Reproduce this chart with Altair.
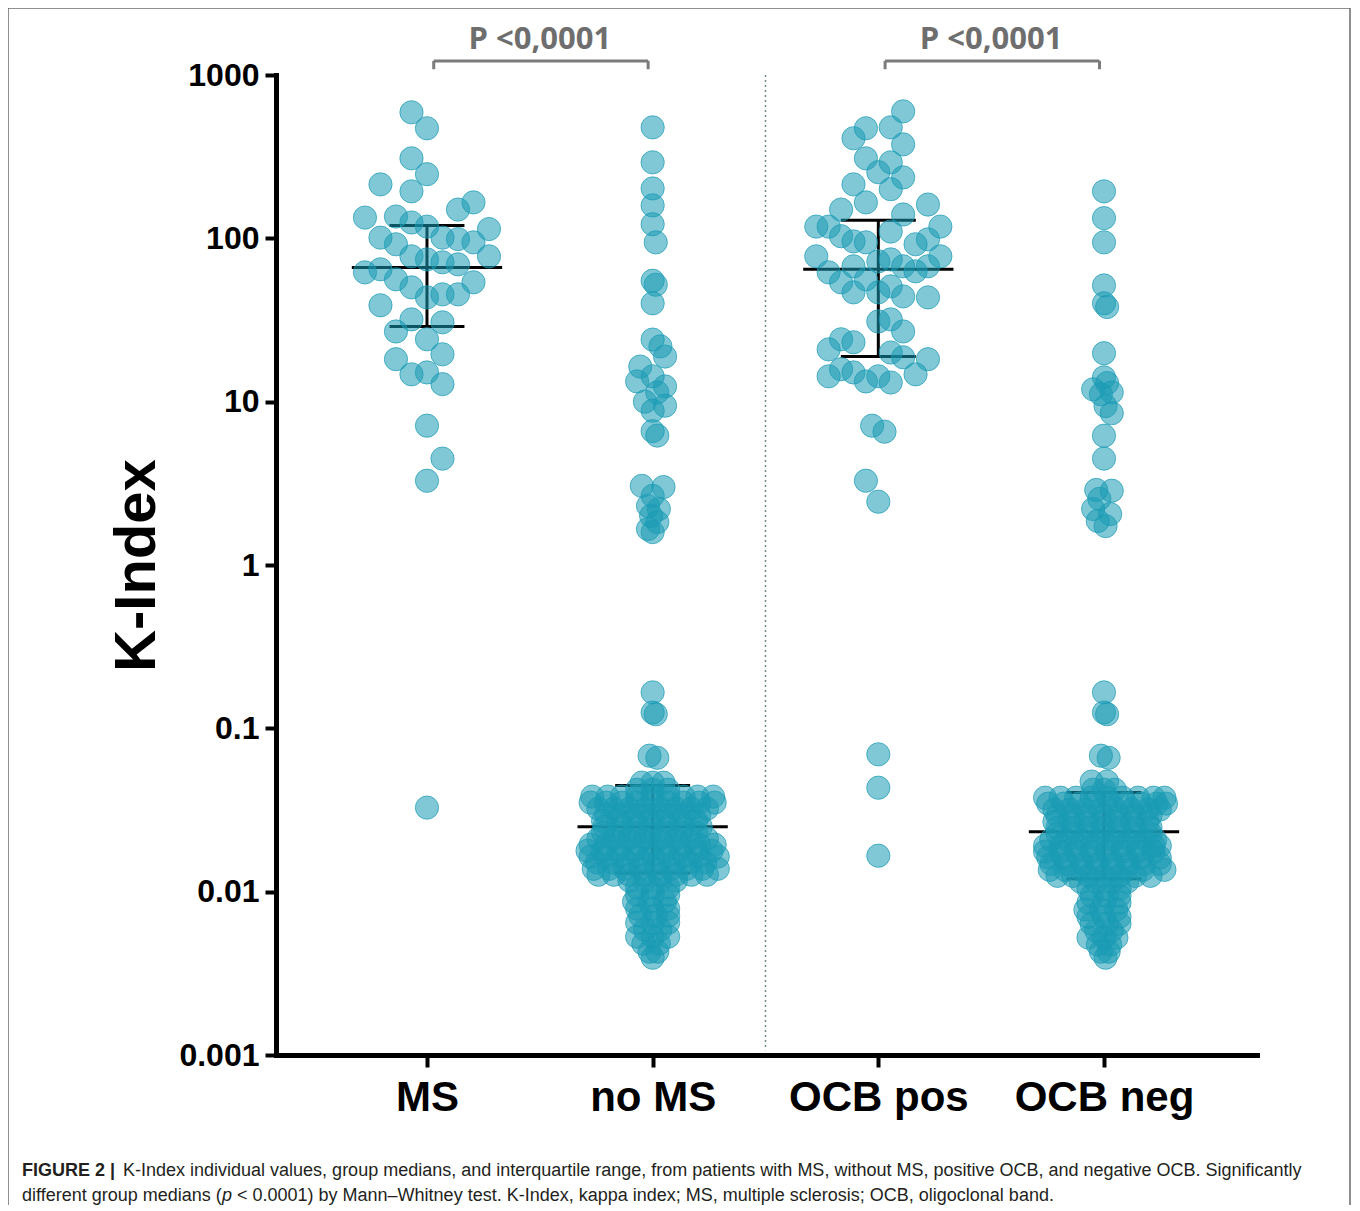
import json
import altair as alt
import pandas as pd

GROUPS = ["MS", "no MS", "OCB pos", "OCB neg"]
GROUP_POS = [1, 2, 3, 4]
Y_TICKS = [0.001, 0.01, 0.1, 1, 10, 100, 1000]

# ---- individual K-Index values and swarm slots ----
MS_K = [591, 472, 309, 247, 214, 194, 166, 150, 134, 136, 125, 118, 114, 101, 92,
        101, 99, 94.5, 77.6, 77.6, 74.3, 71.3, 69.3, 61.9, 64.6, 56.1, 50.1, 53.8,
        43.5, 45.4, 45.4, 38.9, 31.9, 30.6, 26.9, 24.1, 19.5, 18.2, 14.7, 15.1, 12.8,
        7.13, 4.48, 3.28, 0.0327]
MS_SLOT = [-1, 0, -1, 0, -3, -1, 3, 2, -4, -2, -1, 0, 4, -3, -2, 1, 2, 3, 4, -1,
           0, 1, 2, -4, -3, -2, -1, 3, 0, 1, 2, -3, -1, 1, -2, 0, 1, -2, -1, 0,
           1, 0, 1, 0, 0]

NOMS_K = [478, 292, 202, 159, 122, 94.5, 55, 52, 40, 24, 21.8, 18.9, 16.4, 14.3,
          13.3, 12.4, 11.4, 10, 9.45, 8.8, 6.6, 6.2, 3.05, 3.0, 2.65, 2.3, 2.2, 2.0,
          1.83, 1.66, 1.59, 0.166, 0.125, 0.122, 0.068, 0.066]
NOMS_SLOT = [0, 0, 0, 0, 0, 0.2, 0, 0.2, 0, 0, 0.5, 0.8, -0.8, 0, -1, 0.8, 0.3, -0.5,
             0.8, 0, 0, 0.3, -0.7, 0.7, 0, -0.3, 0.4, -0.1, 0.3, -0.3, 0, 0, 0, 0.2,
             -0.2, 0.3]
# dense low cluster, one entry per row of the swarm
NOMS_ROW_K = [0.0465, 0.0421, 0.0382, 0.0351, 0.0322, 0.0296, 0.0272, 0.0250,
              0.0230, 0.0211, 0.0194, 0.0178, 0.0164, 0.0151, 0.0138, 0.0127,
              0.0117, 0.0106, 0.00958, 0.00869, 0.00787, 0.00713, 0.00646,
              0.00585, 0.00530, 0.00480, 0.00429, 0.00394]
NOMS_ROW_SLOTS = [
    [-0.7, 0, 0.7],
    [-1, 0, 1],
    [-3.9, -2.9, -2, -1, 0, 1, 2, 2.9, 3.9],
    [-4, -3, -2, -1, 0, 1, 2, 3, 4],
    [-3.5, -2.5, -1.5, -0.5, 0.5, 1.5, 2.5, 3.5],
    [-3, -2, -1, 0, 1, 2, 3],
    [-3.2, -2.2, -1.2, -0.2, 0.8, 1.8, 2.8],
    [-3.1, -2, -1, 0, 1, 2, 3.1],
    [-3.2, -2.2, -1.2, -0.2, 0.8, 1.8, 2.8],
    [-3.5, -2.5, -1.5, -0.5, 0.5, 1.5, 2.5, 3.5],
    [-4, -3, -2, -1, 0, 1, 2, 3, 4],
    [-4.2, -3.2, -2.2, -1.2, -0.2, 0.8, 1.8, 2.8, 3.8],
    [-4, -3, -2, -1, 0, 1, 2, 3, 4.2],
    [-3.6, -2.6, -1.6, -0.6, 0.4, 1.4, 2.4, 3.4],
    [-3.8, -2.8, -1.8, -0.8, 0.2, 1.2, 2.2, 3.2, 4.2],
    [-3.5, -2.5, -1.5, -0.5, 0.5, 1.5, 2.5, 3.5],
    [-1.5, -0.5, 0.5, 1.5],
    [-1, 0, 1],
    [-1, 0, 1],
    [-1.2, -0.2, 0.8],
    [-1, 0, 1],
    [-0.8, 0.2, 1],
    [-1, 0, 1],
    [-0.5, 0.5],
    [-1, 0, 1],
    [-0.6, 0.4],
    [-0.2, 0.3],
    [0],
]

OCBPOS_K = [599, 472, 410, 478, 376, 309, 292, 254, 236, 214, 200, 166, 150, 140,
            161, 118, 118, 103, 95.8, 94.5, 110, 92, 98.6, 118, 77.6, 61.9, 67.4,
            72.3, 74.3, 67.4, 62.8, 67.4, 77.6, 53.8, 46.7, 56.1, 46.7, 50.8, 44.1,
            43.5, 31.0, 31.9, 26.9, 20.9, 24.1, 23.1, 20.0, 18.7, 18.2, 14.3, 15.8,
            15.1, 13.3, 14.3, 13.1, 14.7, 7.13, 6.55, 3.28, 2.44, 0.0693, 0.0433,
            0.0166]
OCBPOS_SLOT = [2, -1, -2, 1, 2, -1, 1, 0, 2, -2, 1, -1, -3, 2, 4, -5, -4, -3, -2,
               -1, 1, 3, 4, 5, -5, -4, -2, 0, 1, 2, 3, 4, 5, -3, -2, -1, 0, 1, 2,
               4, 0, 1, 2, -4, -3, -2, 1, 2, 4, -4, -3, -2, -1, 0, 1, 3, -0.5, 0.5,
               -1, 0, 0, 0, 0]

OCBNEG_K = [194, 133, 94.5, 51.5, 40, 38, 19.8, 14.1, 13, 11.9, 11.4, 11.1, 9.4,
            8.5, 6.19, 4.48, 2.88, 2.85, 2.54, 2.2, 2.05, 1.86, 1.73, 0.166, 0.125,
            0.122, 0.068, 0.066]
OCBNEG_SLOT = [0, 0, 0, 0, 0, 0.2, 0, 0, 0.2, -0.7, 0.5, -0.2, 0.1, 0.5, 0, 0,
               -0.5, 0.5, -0.3, -0.7, 0.4, -0.4, 0.1, 0, 0, 0.2, -0.2, 0.3]
OCBNEG_ROW_K = [0.0472, 0.0421, 0.0376, 0.0346, 0.0318, 0.0292, 0.0268, 0.0247,
                0.0227, 0.0208, 0.0191, 0.0176, 0.0162, 0.0148, 0.0136, 0.0125,
                0.0115, 0.0104, 0.00945, 0.00856, 0.00776, 0.00703, 0.00637,
                0.00577, 0.00523, 0.00474, 0.00429, 0.00394]
OCBNEG_ROW_SLOTS = [
    [-0.8, 0.2],
    [-0.7, 0, 0.7],
    [-3.8, -2.8, -1.8, -0.8, 0.2, 1.2, 2.2, 3.2, 3.9],
    [-3.6, -2.6, -1.6, -0.6, 0.4, 1.4, 2.4, 3.4, 4],
    [-3.2, -2.2, -1.2, -0.2, 0.8, 1.8, 2.8, 3.6],
    [-3, -2, -1, 0, 1, 2, 3],
    [-3.2, -2.2, -1.2, -0.2, 0.8, 1.8, 2.8],
    [-3, -2, -1, 0, 1, 2, 3],
    [-3, -2, -1, 0, 1, 2, 3],
    [-3.4, -2.4, -1.4, -0.4, 0.6, 1.6, 2.6, 3.3],
    [-3.8, -2.8, -1.8, -0.8, 0.2, 1.2, 2.2, 3.2, 3.6],
    [-3.8, -2.8, -1.8, -0.8, 0.2, 1.2, 2.2, 3.2],
    [-3.6, -2.6, -1.6, -0.6, 0.4, 1.4, 2.4, 3.6],
    [-3.4, -2.4, -1.4, -0.4, 0.6, 1.6, 2.6, 3.6],
    [-3.5, -2.5, -1.5, -0.5, 0.5, 1.5, 2.5, 3.9],
    [-3, -2, -1, 0, 1, 2, 3],
    [-1.5, -0.5, 0.5, 1.5],
    [-1, 0, 1],
    [-0.8, 0.2, 1],
    [-1, 0, 1],
    [-1.2, -0.2, 0.8],
    [-1, 0, 1],
    [-0.8, 0.2, 1],
    [-0.5, 0.5],
    [-1, 0, 0.8],
    [-0.4, 0.4],
    [-0.2, 0.3],
    [0.1],
]

# medians and interquartile ranges
MEDIAN = [66.4, 0.025, 64.6, 0.0233]
Q1 = [28.9, 0.013, 18.9, 0.012]
Q3 = [120, 0.0446, 129, 0.0404]

BRACKET_FROM = [1, 3]
BRACKET_TO = [2, 4]
P_LABELS = ["P <0,0001", "P <0,0001"]

CAPTION_BOLD = "FIGURE 2 |"
CAPTION_1 = ("K-Index individual values, group medians, and interquartile range, from "
             "patients with MS, without MS, positive OCB, and negative OCB. Significantly")
CAPTION_2A = "different group medians ("
CAPTION_2P = "p"
CAPTION_2B = ("< 0.0001) by Mann\u2013Whitney test. K-Index, kappa index; MS, multiple "
              "sclerosis; OCB, oligoclonal band.")

# ---- build tables ----
SLOT_STEP = {"MS": 0.0687, "no MS": 0.0687, "OCB pos": 0.055, "OCB neg": 0.0687}
rows = []


def add(group, ks, slots):
    g = GROUP_POS[GROUPS.index(group)]
    for k, s in zip(ks, slots):
        rows.append({"group": group, "g": g, "k": k, "slot": s})


add("MS", MS_K, MS_SLOT)
add("no MS", NOMS_K, NOMS_SLOT)
for k, sl in zip(NOMS_ROW_K, NOMS_ROW_SLOTS):
    add("no MS", [k] * len(sl), sl)
add("OCB pos", OCBPOS_K, OCBPOS_SLOT)
add("OCB neg", OCBNEG_K, OCBNEG_SLOT)
for k, sl in zip(OCBNEG_ROW_K, OCBNEG_ROW_SLOTS):
    add("OCB neg", [k] * len(sl), sl)
pts = pd.DataFrame(rows)
pts["x"] = pts["g"] + pts["slot"] * pts["group"].map(SLOT_STEP)

summ = pd.DataFrame({"g": GROUP_POS, "med": MEDIAN, "q1": Q1, "q3": Q3})
summ["xm1"] = summ["g"] - 0.333
summ["xm2"] = summ["g"] + 0.333
summ["xq1"] = summ["g"] - 0.166
summ["xq2"] = summ["g"] + 0.166

br = pd.DataFrame({"a": BRACKET_FROM, "b": BRACKET_TO, "label": P_LABELS})
br["x1"] = br["a"] + 0.03
br["x2"] = br["b"] - 0.02
br["xm"] = (br["a"] + br["b"]) / 2
br["ytop"] = 1220
br["ybot"] = 1085
br["ytext"] = 1645

divider = pd.DataFrame({"x": [2.5], "top": [1000], "bottom": [0.00107]})

TEAL = "#1a9bb5"
FONT = "Liberation Sans"
xs = alt.Scale(domain=[0.331, 4.678], nice=False, zero=False)
ys = alt.Scale(type="log", domain=[0.001, 1000], nice=False)

label_expr = json.dumps(GROUPS) + "[datum.value - 1]"

one = pd.DataFrame({"a": [0]})

frame = alt.Chart(one).mark_rect(fillOpacity=0, stroke="#6b6b6b", strokeWidth=1.5).encode(
    x=alt.value(-268), x2=alt.value(1074), y=alt.value(-67), y2=alt.value(1150)
)

points = alt.Chart(pts).mark_circle(
    size=540, fill=TEAL, fillOpacity=0.55, stroke=TEAL, strokeOpacity=0.7, strokeWidth=1
).encode(
    x=alt.X("x:Q", scale=xs, axis=alt.Axis(
        values=GROUP_POS, labelExpr=label_expr, title=None, grid=False,
        domainColor="black", domainWidth=5, domainCap="square",
        tickColor="black", tickWidth=4, tickSize=12,
        labelFont=FONT, labelFontSize=42, labelFontWeight="bold", labelColor="black",
        labelPadding=10, labelFlush=False, labelOverlap=False)),
    y=alt.Y("k:Q", scale=ys, axis=alt.Axis(
        values=Y_TICKS, format="~g", title="K-Index", grid=False,
        domainColor="black", domainWidth=5, domainCap="square",
        tickColor="black", tickWidth=4, tickSize=11,
        labelFont=FONT, labelFontSize=32, labelFontWeight="bold", labelColor="black",
        labelPadding=6, labelFlush=False, labelOverlap=False,
        titleFont=FONT, titleFontSize=58, titleFontWeight="bold", titleColor="black",
        titlePadding=12)),
)

div = alt.Chart(divider).mark_rule(color="#6f8c8c", strokeWidth=1.5, strokeDash=[2, 3]).encode(
    x=alt.X("x:Q", scale=xs), y=alt.Y("top:Q", scale=ys), y2="bottom:Q")

rule_kw = dict(color="black", strokeWidth=3)
med = alt.Chart(summ).mark_rule(**rule_kw).encode(
    x=alt.X("xm1:Q", scale=xs), x2="xm2:Q", y=alt.Y("med:Q", scale=ys))
q1r = alt.Chart(summ).mark_rule(**rule_kw).encode(
    x=alt.X("xq1:Q", scale=xs), x2="xq2:Q", y=alt.Y("q1:Q", scale=ys))
q3r = alt.Chart(summ).mark_rule(**rule_kw).encode(
    x=alt.X("xq1:Q", scale=xs), x2="xq2:Q", y=alt.Y("q3:Q", scale=ys))
vr = alt.Chart(summ).mark_rule(**rule_kw).encode(
    x=alt.X("g:Q", scale=xs), y=alt.Y("q1:Q", scale=ys), y2="q3:Q")

bcol = "#7b7b7b"
bh = alt.Chart(br).mark_rule(color=bcol, strokeWidth=3).encode(
    x=alt.X("x1:Q", scale=xs), x2="x2:Q", y=alt.Y("ytop:Q", scale=ys))
bl = alt.Chart(br).mark_rule(color=bcol, strokeWidth=3).encode(
    x=alt.X("x1:Q", scale=xs), y=alt.Y("ytop:Q", scale=ys), y2="ybot:Q")
brr = alt.Chart(br).mark_rule(color=bcol, strokeWidth=3).encode(
    x=alt.X("x2:Q", scale=xs), y=alt.Y("ytop:Q", scale=ys), y2="ybot:Q")
bt = alt.Chart(br).mark_text(
    font="Open Sans", fontSize=31, fontWeight="bold", color="#6e6e6e", baseline="middle"
).encode(
    x=alt.X("xm:Q", scale=xs), y=alt.Y("ytext:Q", scale=ys), text="label:N")

cap_kw = dict(font=FONT, fontSize=18, color="#231f20", align="left", baseline="alphabetic")
c1 = alt.Chart(one).mark_text(text=CAPTION_BOLD, fontWeight="bold", **cap_kw).encode(
    x=alt.value(-254), y=alt.value(1101))
c2 = alt.Chart(one).mark_text(text=CAPTION_1, **cap_kw).encode(
    x=alt.value(-153), y=alt.value(1101))
c3 = alt.Chart(one).mark_text(text=CAPTION_2A, **cap_kw).encode(
    x=alt.value(-254), y=alt.value(1126))
c4 = alt.Chart(one).mark_text(text=CAPTION_2P, fontStyle="italic", **cap_kw).encode(
    x=alt.value(-54), y=alt.value(1126))
c5 = alt.Chart(one).mark_text(text=CAPTION_2B, **cap_kw).encode(
    x=alt.value(-39), y=alt.value(1126))

chart = alt.layer(
    frame, div, med, q1r, q3r, vr, points, bh, bl, brr, bt, c1, c2, c3, c4, c5
).properties(
    width=981, height=980,
    padding={"left": 268, "top": 67, "right": 94, "bottom": 150},
    autosize=alt.AutoSizeParams(type="none"),
    background="white",
).configure_view(stroke=None)

chart.save("out.html", embed_options={"renderer": "svg", "actions": False})
